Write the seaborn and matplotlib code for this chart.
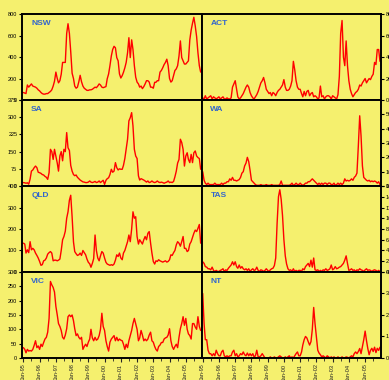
import pandas as pd
import matplotlib
matplotlib.use("Agg")
import matplotlib.pyplot as plt
import matplotlib.dates as mdates
import seaborn as sns

# monthly values Jan 1995 - Dec 2005
months = pd.date_range("1995-01-01", periods=132, freq="MS")

nsw = [70, 65, 60, 140, 120, 135, 150, 130, 125, 120, 110, 95,
       85, 70, 60, 55, 55, 60, 60, 70, 80, 95, 130, 175,
       260, 200, 160, 180, 240, 350, 350, 350, 620, 710, 620, 450,
       250, 200, 130, 110, 120, 170, 230, 170, 130, 110, 100, 90,
       90, 95, 95, 100, 110, 120, 115, 130, 150, 140, 120, 115,
       120, 125, 198, 243, 320, 410, 470, 500, 486, 395, 365, 243,
       205, 228, 258, 300, 350, 440, 580, 395, 560, 470, 320, 213,
       167, 150, 120, 130, 106, 125, 150, 180, 180, 167, 120, 120,
       110, 165, 165, 180, 180, 260, 275, 300, 330, 350, 380, 320,
       200, 167, 180, 230, 275, 290, 320, 410, 550, 395, 365, 335,
       335, 350, 365, 560, 650, 715, 770, 690, 590, 440, 320, 260]

act = [2, 1, 4, 1, 2, 3, 4, 1, 3, 2, 1, 2,
       3, 1, 2, 3, 1, 1, 2, 1, 1, 2, 12, 15,
       18, 10, 3, 1, 2, 4, 6, 9, 12, 14, 12, 7,
       4, 2, 1, 3, 5, 8, 12, 16, 18, 21, 16, 10,
       8, 6, 7, 4, 7, 6, 4, 7, 9, 10, 12, 14,
       19, 12, 9, 9, 10, 13, 18, 36, 28, 18, 12, 10,
       10, 6, 3, 8, 4, 8, 9, 4, 6, 7, 3, 4,
       3, 1, 2, 13, 3, 4, 1, 3, 4, 4, 3, 1,
       4, 3, 2, 1, 5, 22, 62, 74, 40, 32, 55, 32,
       18, 10, 6, 3, 5, 7, 8, 10, 14, 13, 16, 18,
       20, 16, 18, 20, 19, 22, 24, 35, 33, 47, 47, 36]

sa = [15, 14, 12, 14, 8, 30, 65, 70, 80, 87, 80, 60,
      58, 55, 50, 48, 42, 38, 29, 58, 160, 150, 116, 160,
      130, 100, 65, 131, 150, 110, 160, 150, 233, 167, 155, 90,
      65, 50, 45, 48, 38, 32, 26, 22, 18, 17, 15, 15,
      17, 22, 17, 15, 17, 20, 15, 17, 22, 15, 20, 25,
      7, 25, 32, 36, 50, 73, 60, 65, 102, 80, 70, 75,
      73, 73, 90, 120, 160, 204, 284, 298, 320, 262, 160, 131,
      120, 44, 26, 32, 29, 26, 22, 17, 22, 15, 17, 22,
      17, 15, 17, 22, 17, 15, 17, 15, 12, 15, 17, 22,
      15, 17, 15, 20, 40, 65, 100, 116, 204, 190, 160, 87,
      131, 145, 116, 102, 138, 102, 145, 153, 131, 124, 120, 73]

wa = [10, 4, 2, 1, 2, 1, 1, 1, 1, 2, 1, 1,
      1, 1, 2, 1, 2, 2, 3, 3, 5, 4, 6, 4,
      4, 3.5, 4, 4.5, 6, 9, 10, 14, 16, 20, 17, 11,
      4, 3, 2, 1, 0.5, 0.5, 0.5, 1, 0.5, 0.5, 0.5, 1,
      0.5, 0.5, 0.5, 1, 0.5, 0.5, 0.5, 0.5, 0.5, 1, 3.5, 0.5,
      0.5, 0.5, 0.5, 0.5, 0.5, 1, 2, 0.5, 1, 2, 1, 1,
      2, 1, 0.5, 1, 2, 2, 3, 3, 4, 5, 4, 3,
      2, 1, 2, 1, 2, 1, 2, 2, 1, 2, 2, 1,
      1, 2, 0.5, 1, 2, 1, 2, 1, 2, 5, 3.5, 4,
      3.5, 4, 5, 4, 6, 7, 9, 28, 49, 35, 14, 6,
      5, 4, 3.5, 4, 3, 3.5, 3, 3.5, 3, 2, 3, 1]

qld = [134, 130, 88, 103, 90, 141, 103, 110, 103, 88, 77, 65,
       49, 31, 34, 52, 55, 65, 83, 90, 95, 88, 52, 55,
       55, 52, 55, 60, 100, 150, 165, 190, 250, 280, 334, 357,
       257, 140, 95, 85, 77, 80, 88, 77, 100, 90, 80, 60,
       45, 38, 22, 40, 62, 172, 100, 65, 52, 75, 95, 88,
       65, 45, 37, 34, 31, 34, 31, 37, 55, 80, 72, 88,
       65, 57, 88, 100, 120, 141, 172, 141, 200, 280, 250, 257,
       165, 130, 150, 140, 130, 150, 165, 150, 180, 188, 134, 88,
       49, 37, 52, 49, 57, 52, 49, 46, 49, 52, 46, 49,
       57, 80, 77, 90, 100, 126, 141, 134, 120, 141, 165, 110,
       110, 95, 100, 130, 141, 160, 180, 195, 188, 203, 221, 134]

tas = [1.9, 1.6, 1.0, 0.9, 0.6, 0.6, 0.4, 0.9, 0.3, 0.1, 0.3, 0.1,
       0.1, 0.3, 0.4, 0.6, 0.1, 0.4, 0.3, 0.7, 1.0, 1.3, 1.9, 1.3,
       1.9, 1.0, 0.7, 1.3, 0.7, 1.0, 0.6, 0.4, 0.6, 0.3, 0.6, 0.1,
       0.4, 0.6, 0.3, 0.4, 0.9, 0.3, 0.1, 0.4, 0.3, 0.1, 0.3, 0.6,
       0.3, 0.1, 0.4, 0.6, 0.7, 1.2, 2.6, 9.0, 14.0, 15.3, 13.5, 10.5,
       6.0, 3.0, 1.5, 0.6, 0.3, 0.4, 0.1, 0.6, 0.1, 0.3, 0.1, 0.3,
       0.3, 0.1, 0.6, 0.4, 1.0, 1.3, 1.6, 1.0, 2.2, 0.9, 2.6, 0.4,
       0.3, 0.4, 0.1, 0.3, 0.1, 0.4, 0.3, 0.6, 0.3, 0.4, 0.6, 1.3,
       0.4, 0.6, 1.0, 0.6, 0.7, 0.9, 1.0, 1.3, 1.6, 2.2, 3.0, 1.6,
       0.3, 0.4, 0.6, 0.3, 0.4, 0.1, 0.4, 0.3, 0.6, 0.4, 0.3, 0.1,
       0.4, 0.6, 0.3, 0.4, 0.3, 0.1, 0.3, 0.4, 0.3, 0.1, 0.3, 0.1]

vic = [36, 30, 18, 30, 24, 26, 24, 30, 44, 60, 36, 42,
       30, 48, 40, 54, 66, 72, 90, 138, 267, 255, 246, 230,
       180, 150, 120, 110, 96, 72, 66, 80, 102, 144, 150, 144,
       150, 130, 102, 78, 84, 72, 66, 72, 30, 40, 48, 40,
       55, 66, 100, 70, 60, 72, 62, 66, 78, 100, 156, 110,
       96, 60, 40, 24, 55, 66, 72, 78, 60, 72, 60, 66,
       62, 60, 48, 30, 48, 36, 60, 78, 96, 120, 138, 120,
       100, 60, 70, 96, 80, 60, 66, 60, 66, 80, 90, 60,
       55, 40, 30, 24, 40, 45, 54, 54, 66, 70, 72, 80,
       102, 60, 40, 30, 40, 48, 36, 72, 102, 120, 144, 114,
       138, 100, 84, 78, 66, 120, 120, 108, 100, 144, 110, 96]

nt = [3.0, 1.6, 0.85, 0.85, 0.36, 0.2, 0.2, 0.1, 0.2, 0.1, 0.36, 0.2,
      0.1, 0.1, 0.28, 0.36, 0.1, 0.05, 0.1, 0.05, 0.1, 0.1, 0.28, 0.36,
      0.1, 0.2, 0.05, 0.1, 0.2, 0.15, 0.28, 0.15, 0.1, 0.23, 0.1, 0.2,
      0.1, 0.2, 0.05, 0.1, 0.36, 0.05, 0.05, 0.1, 0.2, 0.1, 0.0, 0.0,
      0.0, 0.0, 0.05, 0.0, 0.0, 0.05, 0.0, 0.0, 0.05, 0.1, 0.05, 0.0,
      0.0, 0.05, 0.0, 0.05, 0.1, 0.0, 0.05, 0.0, 0.1, 0.2, 0.28, 0.1,
      0.1, 0.28, 0.6, 0.85, 1.0, 0.93, 0.76, 0.6, 0.76, 1.33, 2.35, 1.6,
      1.0, 0.36, 0.23, 0.15, 0.05, 0.1, 0.05, 0.0, 0.1, 0.05, 0.0, 0.05,
      0.0, 0.05, 0.0, 0.0, 0.05, 0.0, 0.0, 0.05, 0.0, 0.0, 0.05, 0.03,
      0.0, 0.05, 0.1, 0.05, 0.2, 0.28, 0.2, 0.3, 0.44, 0.2, 0.52, 0.85,
      1.25, 0.8, 0.45, 0.15, 0.35, 0.45, 0.3, 0.5, 0.25, 0.45, 0.35, 0.5]

# y tick values per panel (last one is also the top of the axis)
nsw_ticks = [0, 200, 400, 600, 800]
act_ticks = [0, 20, 40, 60, 80]
sa_ticks = [0, 75, 150, 225, 300, 375]
wa_ticks = [0, 10, 20, 30, 40, 50]
qld_ticks = [0, 100, 200, 300, 400]
tas_ticks = [0, 2, 4, 6, 8, 10, 12, 14, 16]
vic_ticks = [0, 50, 100, 150, 200, 250, 300]
nt_ticks = [0, 1, 2, 3, 4]

panels = [
    ("NSW", nsw, nsw_ticks, 800),
    ("ACT", act, act_ticks, 80),
    ("SA", sa, sa_ticks, 375),
    ("WA", wa, wa_ticks, 60),
    ("QLD", qld, qld_ticks, 400),
    ("TAS", tas, tas_ticks, 16),
    ("VIC", vic, vic_ticks, 300),
    ("NT", nt, nt_ticks, 4),
]

yellow = "#F5F06E"
sns.set_theme(style="ticks")
plt.rcParams["font.family"] = ["Liberation Sans", "DejaVu Sans"]

fig, axes = plt.subplots(4, 2, figsize=(3.89, 3.80), dpi=100, sharex=True)
fig.subplots_adjust(left=0.057, right=0.979, top=0.963, bottom=0.058,
                    wspace=0, hspace=0)
fig.patch.set_facecolor(yellow)

for i, (ax, (name, vals, ticks, top)) in enumerate(zip(axes.flat, panels)):
    sns.lineplot(x=months, y=vals, ax=ax, color="#FF0000", lw=1.0)
    ax.set_facecolor(yellow)
    ax.set_ylim(0, top)
    ax.set_yticks(ticks)
    ax.set_xlabel("")
    ax.set_ylabel("")
    for s in ax.spines.values():
        s.set_color("black")
        s.set_linewidth(1.4)
    ax.tick_params(axis="y", labelsize=4, length=2.5, width=0.8, pad=1,
                   colors="black")
    if i % 2 == 1:
        ax.yaxis.tick_right()
    ax.text(0.05, 0.93, name, transform=ax.transAxes, ha="left", va="top",
            fontsize=6, fontweight="bold", color="#3366CC")
    if i < 6:
        ax.tick_params(axis="x", which="both", length=0)
    else:
        ax.tick_params(axis="x", which="major", labelsize=4, length=3,
                       width=0.8, pad=1, labelrotation=90)
        ax.tick_params(axis="x", which="minor", length=2, width=0.6)

ax0 = axes[0, 0]
ax0.set_xlim(pd.Timestamp("1994-12-05"), pd.Timestamp("2005-12-20"))
ax0.xaxis.set_major_locator(mdates.YearLocator())
ax0.xaxis.set_minor_locator(mdates.MonthLocator(bymonth=7))
ax0.xaxis.set_major_formatter(mdates.DateFormatter("%b-%y"))

fig.savefig("out.png", dpi=100, facecolor=yellow)
